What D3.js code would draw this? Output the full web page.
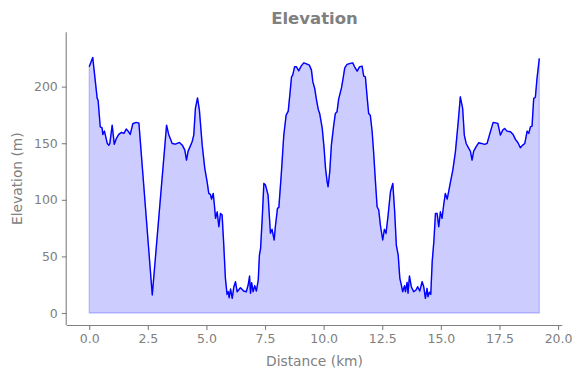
<!DOCTYPE html>
<html>
<head>
<meta charset="utf-8">
<script src="https://cdn.jsdelivr.net/npm/d3@7"></script>
<style>
  body { margin: 0; background: #fff; }
  text { font-family: "DejaVu Sans", sans-serif; }
</style>
</head>
<body>
<svg id="chart" width="582" height="378"></svg>
<script>
// distance along the route (km) and elevation (m)
const distance = [0, 0.15, 0.34, 0.38, 0.47, 0.55, 0.58, 0.65, 0.77, 0.84, 0.88, 0.98, 1.07, 1.16, 1.26, 1.38, 1.48, 1.58, 1.66, 1.75, 1.86, 2.0, 2.12,
  2.69, 3.30, 3.39, 3.54, 3.68, 3.85, 3.97, 4.08, 4.15, 4.22, 4.39, 4.46, 4.53, 4.62, 4.70, 4.82, 4.93, 5.03, 5.10, 5.17, 5.22, 5.29, 5.34, 5.39,
  5.46, 5.53, 5.60, 5.67, 5.74, 5.81, 5.88, 5.93, 5.97, 6.03, 6.10, 6.17, 6.24, 6.31, 6.45, 6.59, 6.70, 6.78, 6.84, 6.88, 6.93, 6.99, 7.06, 7.13,
  7.21, 7.26, 7.31, 7.38, 7.45, 7.52, 7.63, 7.73, 7.80, 7.89, 7.94, 8.03, 8.09, 8.20, 8.30, 8.40, 8.49, 8.57, 8.63, 8.68, 8.76, 8.84, 8.94, 9.04,
  9.15, 9.27, 9.39, 9.48, 9.54, 9.62, 9.68, 9.77, 9.83, 9.94, 10.02, 10.08, 10.15, 10.19, 10.26, 10.33, 10.43, 10.50, 10.57, 10.64, 10.76, 10.83,
  10.90, 11.0, 11.14, 11.24, 11.32, 11.43, 11.53, 11.64, 11.71, 11.78, 11.86, 11.92, 11.99, 12.07, 12.14, 12.21, 12.28, 12.35, 12.42, 12.52,
  12.59, 12.66, 12.75, 12.85, 12.95, 13.03, 13.10, 13.18, 13.25, 13.30, 13.37, 13.45, 13.49, 13.56, 13.60, 13.66, 13.74, 13.84, 13.94, 14.01,
  14.10, 14.20, 14.27, 14.34, 14.41, 14.45, 14.51, 14.57, 14.63, 14.70, 14.77, 14.84, 14.91, 14.98, 15.05, 15.12, 15.19, 15.27, 15.33, 15.41,
  15.51, 15.62, 15.74, 15.83, 15.93, 16.0, 16.08, 16.19, 16.26, 16.33, 16.40, 16.50, 16.61, 16.73, 16.87, 16.97, 17.08, 17.23, 17.33, 17.43,
  17.54, 17.64, 17.72, 17.82, 17.97, 18.08, 18.18, 18.29, 18.39, 18.49, 18.58, 18.68, 18.75, 18.82, 18.89, 18.96, 19.03, 19.10, 19.20]
const elevation = [217.5, 225.8, 189.6, 188, 164.5, 163.6, 157.8, 160.7, 149.8, 148.3, 149.8, 166, 149, 154.3, 157.8, 159.6, 158.7, 162.5, 160.7, 157.8, 167.2, 168.4, 167.8,
  15.9, 166, 157.8, 149.8, 149.2, 150.7, 148.3, 143.9, 135.1, 143, 151.3, 157.2, 180.7, 190.1, 179.2, 148.3, 127.8, 115.9, 105.7, 104.8, 100.7, 105.7, 95.4, 83.6,
  89.4, 76.2, 88, 86.5, 60, 30.6, 16.5, 18.8, 13.5, 21.2, 13, 23.2, 27.6, 18.8, 22.3, 19.4, 18.8, 24.7, 32.7, 17.4, 26.8, 18.8, 24.1, 19.4,
  29.1, 51.2, 57.1, 83.6, 114.5, 113, 104.2, 70.4, 73.9, 64.5, 76.2, 92.4, 93.3, 124.8, 157.2, 174.8, 178.4, 195.4, 208.7, 210.2, 217.5, 217.5, 214, 218.1,
  221, 220.1, 219, 214.6, 204.2, 198.4, 190.1, 179.9, 176.3, 163.1, 145.4, 127.8, 115.9, 111.5, 124.8, 148.3, 166, 176.3, 177.7, 189, 198.9, 207.2,
  216.6, 219.6, 220.5, 221, 217.5, 213.7, 217.5, 218.1, 209.3, 208.7, 189.6, 176.3, 174.8, 160.1, 139.5, 115.9, 93.9, 91, 77.7, 64.5,
  73.9, 70.4, 86.5, 107.1, 114.5, 89.4, 60, 51.2, 30.6, 26.2, 18.8, 24.1, 18.8, 27.1, 17.4, 32.7, 23.2, 18.8, 20.3, 23.2,
  19.4, 27.6, 23.2, 13, 21.8, 14.4, 18.3, 16.5, 45.3, 63, 88, 88, 76.2, 89.4, 83.6, 95.4, 105.7, 100.7, 107.1, 115.9,
  126.3, 142.4, 168.9, 191, 180.7, 157.2, 149.8, 145.4, 143, 135.1, 143, 146.8, 150.4, 149.8, 149, 149.8, 157.8, 168.4, 168, 167.5,
  157.2, 161.6, 163.1, 160.7, 160.1, 157.8, 153.4, 150.4, 146, 148.3, 149.8, 160.7, 158.7, 164.5, 165.1, 189.6, 190.4, 207.2, 224.9]

const xTicks = [0, 2.5, 5, 7.5, 10, 12.5, 15, 17.5, 20]
const yTicks = [0, 50, 100, 150, 200]

const points = distance.map((d, i) => ({ d: d, e: elevation[i] }))

const svg = d3.select('#chart')
const GREY = '#808080'
const plotLeft = 66.7, plotRight = 562.3, plotTop = 32.3, plotBottom = 325

const x = d3.scaleLinear().domain([-0.96, 20.18]).range([plotLeft, plotRight])
const y = d3.scaleLinear().domain([-10.6, 248]).range([plotBottom, plotTop])

// filled area under the profile
svg.append('path')
  .datum(points)
  .attr('fill', '#ccccff')
  .attr('stroke', 'rgba(0,0,255,0.2)')
  .attr('stroke-width', 1.3)
  .attr('d', d3.area().x(p => x(p.d)).y0(y(0)).y1(p => y(p.e)))

svg.append('path')
  .datum(points)
  .attr('fill', 'none')
  .attr('stroke', '#0000ff')
  .attr('stroke-width', 1.4)
  .attr('stroke-linejoin', 'round')
  .attr('d', d3.line().x(p => x(p.d)).y(p => y(p.e)))

const xAxis = svg.append('g')
  .attr('transform', `translate(0, ${plotBottom})`)
  .call(d3.axisBottom(x).tickValues(xTicks).tickFormat(d3.format('.1f')).tickSize(4.9).tickPadding(4).tickSizeOuter(0))

const yAxis = svg.append('g')
  .attr('transform', `translate(${plotLeft}, 0)`)
  .call(d3.axisLeft(y).tickValues(yTicks).tickSize(4.9).tickPadding(4).tickSizeOuter(0))

for (const ax of [xAxis, yAxis]) {
  ax.select('.domain').attr('stroke', GREY).attr('stroke-width', 1.1)
  ax.selectAll('.tick line').attr('stroke', GREY).attr('stroke-width', 1.1)
  ax.selectAll('.tick text').attr('fill', GREY).attr('font-size', 12.5).attr('font-family', '"DejaVu Sans", sans-serif')
}
// spines span the whole axes box
xAxis.select('.domain').attr('d', `M${plotLeft},0.5H${plotRight}`)
yAxis.select('.domain').attr('d', `M-0.5,${plotTop}V${plotBottom}`)

svg.append('text')
  .text('Elevation')
  .attr('x', (plotLeft + plotRight) / 2)
  .attr('y', 24)
  .attr('text-anchor', 'middle')
  .attr('font-size', 16.5)
  .attr('font-weight', 'bold')
  .attr('fill', GREY)

svg.append('text')
  .text('Distance (km)')
  .attr('x', (plotLeft + plotRight) / 2)
  .attr('y', 366)
  .attr('text-anchor', 'middle')
  .attr('font-size', 13.8)
  .attr('fill', GREY)

svg.append('text')
  .text('Elevation (m)')
  .attr('transform', `translate(22, ${(plotTop + plotBottom) / 2}) rotate(-90)`)
  .attr('text-anchor', 'middle')
  .attr('font-size', 13.8)
  .attr('fill', GREY)
</script>
</body>
</html>
